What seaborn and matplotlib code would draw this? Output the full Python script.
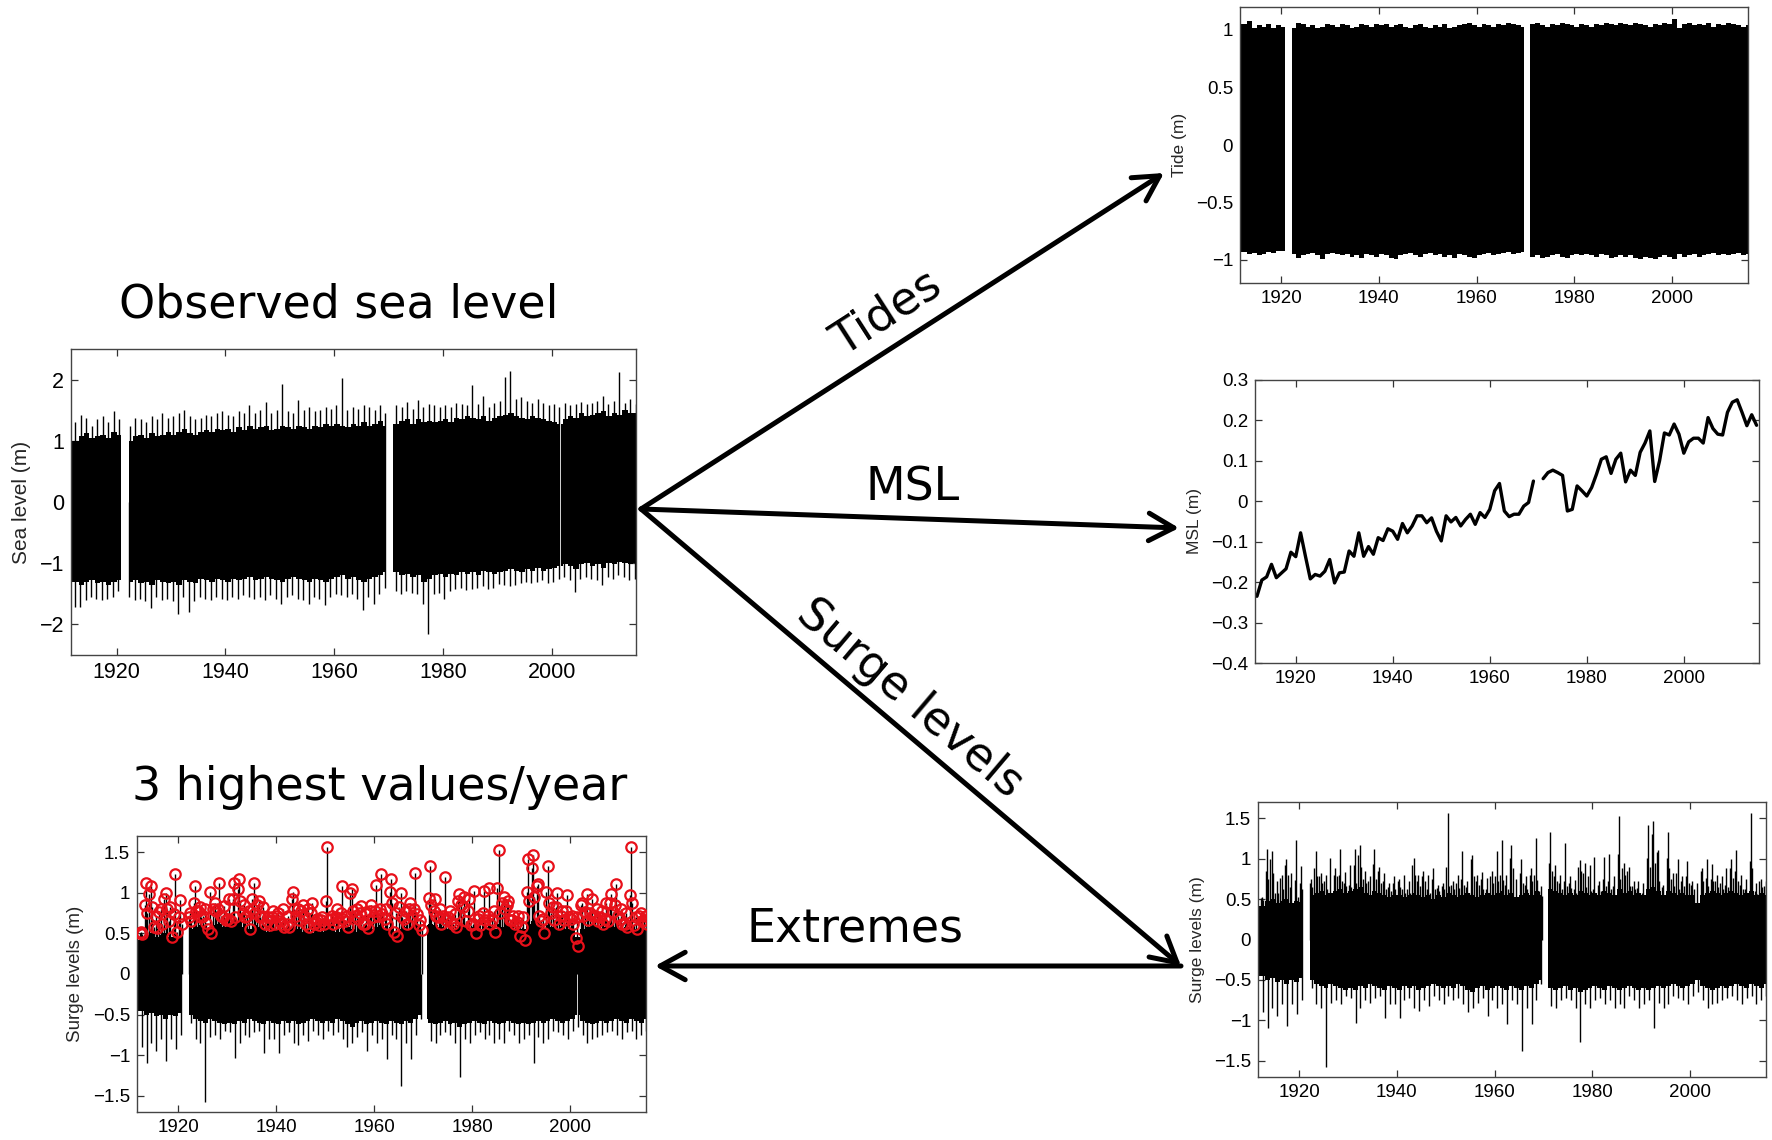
import numpy as np
import pandas as pd
import matplotlib
matplotlib.use("Agg")
import matplotlib.pyplot as plt
from matplotlib.ticker import FuncFormatter, MultipleLocator
import seaborn as sns

nan = np.nan

# ---------------------------------------------------------------- data
YEARS = list(range(1912, 2016))

# periods with a continuous tide-gauge record (decimal years)
RECORD_SEGMENTS = [(1911.6, 1920.75), (1922.3, 1969.6), (1970.85, 2001.5), (2001.62, 2015.5)]

# annual mean sea level (m)
MSL = [
    -0.235, -0.195, -0.187, -0.156, -0.189, -0.178, -0.167, -0.126,
    -0.137, -0.078, -0.136, -0.192, -0.181, -0.185, -0.173, -0.144, -0.202, -0.177,
    -0.175, -0.123, -0.136, -0.078, -0.136, -0.112, -0.131, -0.090, -0.097, -0.068,
    -0.074, -0.094, -0.055, -0.078, -0.061, -0.036, -0.036, -0.053, -0.041, -0.074,
    -0.098, -0.036, -0.051, -0.040, -0.061, -0.045, -0.032, -0.057, -0.028, -0.040,
    -0.020, 0.026, 0.044, -0.024, -0.038, -0.032, -0.032, -0.012, -0.003, 0.050,
    nan, 0.056, 0.071, 0.077, 0.071, 0.064, -0.024, -0.020, 0.038, 0.026,
    0.013, 0.034, 0.067, 0.104, 0.110, 0.069, 0.104, 0.119, 0.048, 0.077,
    0.064, 0.121, 0.144, 0.174, 0.049, 0.100, 0.169, 0.164, 0.191, 0.166,
    0.119, 0.147, 0.156, 0.156, 0.144, 0.207, 0.180, 0.166, 0.164, 0.220,
    0.245, 0.251, 0.220, 0.187, 0.214, 0.188,
]

# observed sea level: typical upper / lower envelope of the hourly record (m)
OBS_TOP = [
    1.00, 1.08, 1.12, 1.05, 1.08, 1.10, 1.05, 1.15,
    1.10, nan, 1.00, 1.08, 1.10, 1.05, 1.12, 1.08, 1.10, 1.15,
    1.10, 1.15, 1.20, 1.12, 1.10, 1.15, 1.18, 1.15, 1.20, 1.18,
    1.20, 1.15, 1.22, 1.18, 1.25, 1.20, 1.22, 1.25, 1.18, 1.20,
    1.25, 1.22, 1.20, 1.25, 1.22, 1.20, 1.25, 1.22, 1.28, 1.25,
    1.28, 1.25, 1.22, 1.28, 1.25, 1.30, 1.25, 1.28, 1.32, 1.25,
    1.28, 1.28, 1.32, 1.35, 1.28, 1.35, 1.30, 1.32, 1.30, 1.32,
    1.35, 1.30, 1.38, 1.35, 1.40, 1.38, 1.35, 1.40, 1.32, 1.38,
    1.40, 1.42, 1.45, 1.40, 1.38, 1.35, 1.40, 1.38, 1.35, 1.32,
    1.30, 1.28, 1.35, 1.40, 1.38, 1.45, 1.40, 1.42, 1.45, 1.48,
    1.40, 1.45, 1.42, 1.50, 1.45, 1.45,
]
OBS_BOT = [
    -1.30, -1.35, -1.30, -1.28, -1.32, -1.30, -1.35, -1.30,
    -1.28, nan, -1.30, -1.28, -1.32, -1.30, -1.35, -1.28, -1.30, -1.32,
    -1.30, -1.35, -1.28, -1.30, -1.32, -1.25, -1.28, -1.30, -1.25, -1.28,
    -1.30, -1.25, -1.28, -1.25, -1.22, -1.28, -1.25, -1.22, -1.25, -1.28,
    -1.30, -1.25, -1.22, -1.25, -1.28, -1.30, -1.25, -1.28, -1.30, -1.25,
    -1.22, -1.20, -1.25, -1.22, -1.28, -1.30, -1.25, -1.22, -1.20, -1.15,
    -1.15, -1.15, -1.20, -1.18, -1.22, -1.20, -1.30, -1.25, -1.20, -1.18,
    -1.22, -1.18, -1.20, -1.15, -1.18, -1.15, -1.20, -1.12, -1.15, -1.18,
    -1.15, -1.12, -1.10, -1.12, -1.15, -1.10, -1.12, -1.08, -1.12, -1.10,
    -1.08, -1.05, -1.02, -1.05, -1.10, -1.02, -1.00, -1.05, -1.02, -1.08,
    -1.00, -1.02, -0.98, -1.00, -1.02, -1.00,
]
# observed sea level: annual maximum and minimum (m)
OBS_MAX = [
    1.30, 1.42, 1.38, 1.25, 1.35, 1.40, 1.30, 1.48,
    1.35, nan, 1.25, 1.38, 1.35, 1.30, 1.40, 1.35, 1.45, 1.38,
    1.40, 1.45, 1.51, 1.40, 1.35, 1.38, 1.42, 1.40, 1.45, 1.48,
    1.42, 1.40, 1.48, 1.45, 1.58, 1.45, 1.50, 1.63, 1.45, 1.50,
    1.93, 1.48, 1.45, 1.66, 1.50, 1.55, 1.48, 1.50, 1.55, 1.52,
    1.58, 2.02, 1.50, 1.55, 1.52, 1.58, 1.55, 1.50, 1.58, 1.45,
    nan, 1.58, 1.55, 1.63, 1.52, 1.67, 1.55, 1.60, 1.58, 1.55,
    1.58, 1.55, 1.62, 1.60, 1.58, 1.91, 1.60, 1.74, 1.55, 1.62,
    1.65, 2.05, 2.14, 1.68, 1.72, 1.65, 1.62, 1.68, 1.62, 1.58,
    1.60, 1.55, 1.62, 1.58, 1.60, 1.63, 1.60, 1.62, 1.65, 1.74,
    1.60, 1.65, 2.13, 1.62, 1.69, 1.60,
]
OBS_MIN = [
    -1.72, -1.72, -1.60, -1.55, -1.58, -1.60, -1.58, -1.55,
    -1.45, nan, -1.55, -1.60, -1.58, -1.62, -1.74, -1.55, -1.60, -1.58,
    -1.62, -1.83, -1.55, -1.80, -1.62, -1.55, -1.58, -1.60, -1.55, -1.58,
    -1.60, -1.55, -1.58, -1.52, -1.55, -1.58, -1.55, -1.60, -1.52, -1.58,
    -1.66, -1.55, -1.52, -1.58, -1.60, -1.66, -1.55, -1.58, -1.69, -1.55,
    -1.50, -1.52, -1.55, -1.50, -1.58, -1.77, -1.55, -1.66, -1.50, -1.40,
    nan, -1.45, -1.50, -1.45, -1.48, -1.50, -1.66, -2.16, -1.50, -1.48,
    -1.58, -1.45, -1.42, -1.40, -1.44, -1.42, -1.40, -1.38, -1.42, -1.40,
    -1.34, -1.35, -1.38, -1.35, -1.32, -1.30, -1.32, -1.30, -1.28, -1.32,
    -1.30, -1.25, -1.22, -1.28, -1.47, -1.25, -1.22, -1.25, -1.28, -1.36,
    -1.22, -1.25, -1.20, -1.22, -1.28, -1.25,
]

# predicted tide: annual upper / lower envelope (m)
TIDE_HI = [
    1.05, 1.08, 1.02, 1.04, 1.03, 1.05, 1.02, 1.04,
    1.03, nan, 1.02, 1.06, 1.05, 1.03, 1.04, 1.02, 1.03, 1.05,
    1.04, 1.03, 1.05, 1.04, 1.02, 1.03, 1.05, 1.04, 1.03, 1.05,
    1.04, 1.05, 1.03, 1.04, 1.05, 1.03, 1.02, 1.04, 1.05, 1.03,
    1.02, 1.04, 1.03, 1.05, 1.02, 1.03, 1.04, 1.05, 1.06, 1.04,
    1.03, 1.05, 1.04, 1.03, 1.05, 1.04, 1.06, 1.05, 1.04, 1.03,
    1.04, 1.05, 1.06, 1.04, 1.03, 1.05, 1.04, 1.06, 1.05, 1.04,
    1.03, 1.05, 1.04, 1.03, 1.05, 1.04, 1.06, 1.05, 1.04, 1.06,
    1.05, 1.04, 1.06, 1.05, 1.04, 1.03, 1.05, 1.04, 1.06, 1.05,
    1.10, 1.02, 1.05, 1.06, 1.04, 1.05, 1.04, 1.06, 1.03, 1.05,
    1.04, 1.06, 1.05, 1.04, 1.03, 1.04,
]
TIDE_LO = [
    -0.93, -0.95, -0.94, -0.96, -0.95, -0.93, -0.94, -0.92,
    -0.92, nan, -0.95, -0.98, -0.96, -0.95, -0.94, -0.96, -0.99, -0.95,
    -0.94, -0.95, -0.96, -0.95, -0.97, -0.96, -0.98, -0.95, -0.96, -0.97,
    -0.95, -0.96, -0.98, -0.99, -0.96, -0.95, -0.94, -0.96, -0.97, -0.95,
    -0.94, -0.96, -0.95, -0.97, -0.96, -0.98, -0.95, -0.96, -0.97, -0.98,
    -0.96, -0.95, -0.94, -0.96, -0.95, -0.94, -0.93, -0.95, -0.94, -0.93,
    -0.95, -0.97, -0.96, -0.98, -0.97, -0.96, -0.95, -0.97, -0.98, -0.96,
    -0.95, -0.96, -0.95, -0.96, -0.97, -0.95, -0.96, -0.98, -0.97, -0.96,
    -0.97, -0.96, -0.98, -0.99, -0.97, -0.98, -0.99, -0.97, -0.96, -0.97,
    -0.99, -0.95, -0.97, -0.96, -0.95, -0.97, -0.96, -0.95, -0.94, -0.96,
    -0.95, -0.96, -0.95, -0.94, -0.96, -0.95,
]

# surge (non-tidal residual): annual upper / lower envelope (m)
SURGE_HI = [
    0.42, 0.48, 0.50, 0.45, 0.48, 0.50, 0.45, 0.48,
    0.46, nan, 0.55, 0.58, 0.60, 0.55, 0.58, 0.60, 0.62, 0.58,
    0.60, 0.62, 0.65, 0.58, 0.55, 0.60, 0.58, 0.55, 0.52, 0.55,
    0.55, 0.52, 0.55, 0.58, 0.55, 0.52, 0.55, 0.50, 0.55, 0.52,
    0.58, 0.55, 0.52, 0.55, 0.58, 0.55, 0.52, 0.55, 0.58, 0.55,
    0.58, 0.60, 0.55, 0.58, 0.52, 0.55, 0.58, 0.55, 0.60, 0.55,
    0.60, 0.62, 0.60, 0.58, 0.55, 0.58, 0.55, 0.60, 0.58, 0.55,
    0.58, 0.55, 0.60, 0.58, 0.55, 0.62, 0.58, 0.60, 0.55, 0.58,
    0.55, 0.62, 0.65, 0.60, 0.55, 0.60, 0.58, 0.55, 0.58, 0.55,
    0.55, 0.45, 0.55, 0.58, 0.60, 0.58, 0.55, 0.58, 0.60, 0.58,
    0.55, 0.58, 0.60, 0.55, 0.58, 0.55,
]
SURGE_LO = [
    -0.45, -0.50, -0.48, -0.52, -0.50, -0.55, -0.50, -0.52,
    -0.48, nan, -0.50, -0.55, -0.58, -0.60, -0.55, -0.58, -0.60, -0.62,
    -0.60, -0.62, -0.58, -0.60, -0.55, -0.58, -0.60, -0.62, -0.58, -0.60,
    -0.62, -0.58, -0.60, -0.58, -0.62, -0.60, -0.58, -0.55, -0.58, -0.60,
    -0.58, -0.60, -0.55, -0.58, -0.62, -0.65, -0.60, -0.58, -0.62, -0.60,
    -0.58, -0.60, -0.62, -0.58, -0.60, -0.62, -0.58, -0.60, -0.55, -0.50,
    -0.55, -0.60, -0.62, -0.60, -0.58, -0.62, -0.60, -0.65, -0.62, -0.60,
    -0.58, -0.60, -0.62, -0.58, -0.60, -0.62, -0.60, -0.58, -0.60, -0.62,
    -0.60, -0.62, -0.60, -0.58, -0.60, -0.58, -0.55, -0.58, -0.60, -0.58,
    -0.55, -0.50, -0.58, -0.60, -0.62, -0.60, -0.58, -0.60, -0.58, -0.55,
    -0.58, -0.60, -0.55, -0.58, -0.60, -0.55,
]
# surge: annual minimum (m)
SURGE_MIN = [
    -0.90, -1.10, -0.85, -0.95, -0.80, -1.07, -0.80, -0.92,
    -0.75, nan, -0.60, -0.80, -0.85, -1.58, -0.78, -0.75, -0.80, -0.70,
    -0.72, -1.03, -0.85, -0.75, -0.78, -0.72, -0.70, -0.97, -0.80, -0.80,
    -0.97, -0.75, -0.72, -0.85, -0.88, -0.75, -0.82, -0.70, -0.75, -0.80,
    -0.70, -0.75, -0.72, -0.80, -0.90, -0.85, -0.78, -0.72, -0.95, -0.75,
    -0.85, -0.80, -1.05, -0.75, -0.80, -1.38, -0.85, -1.05, -0.75, -0.55,
    nan, -0.82, -0.85, -0.75, -0.72, -0.75, -0.85, -1.27, -0.80, -0.85,
    -0.75, -0.72, -0.80, -0.75, -0.85, -0.80, -0.85, -0.70, -0.75, -0.85,
    -0.80, -0.75, -1.10, -0.78, -0.85, -0.80, -0.70, -0.72, -0.75, -0.80,
    -0.70, -0.65, -0.75, -0.85, -0.80, -0.78, -0.75, -0.72, -0.70, -0.75,
    -0.80, -0.72, -0.70, -0.80, -0.75, -0.70,
]
# surge: three highest values of each year (m)
SURGE_1ST = [
    0.52, 1.12, 1.09, 0.72, 0.80, 1.00, 0.82, 1.23,
    0.91, nan, 0.75, 1.09, 0.82, 0.80, 1.01, 0.88, 1.12, 0.84,
    0.92, 1.12, 1.17, 0.85, 0.78, 1.12, 0.90, 0.82, 0.70, 0.78,
    0.75, 0.80, 0.72, 1.01, 0.80, 0.85, 0.80, 0.88, 0.68, 0.70,
    1.57, 0.72, 0.80, 1.09, 0.72, 1.05, 0.80, 0.84, 0.76, 0.85,
    1.10, 1.23, 0.80, 1.17, 0.75, 1.00, 0.78, 0.88, 1.25, 0.66,
    nan, 1.33, 0.92, 0.80, 1.19, 0.78, 0.74, 0.98, 0.95, 0.92,
    1.02, 0.72, 1.02, 1.06, 0.78, 1.53, 0.95, 0.90, 0.72, 0.72,
    0.70, 1.42, 1.47, 1.11, 0.68, 1.33, 0.82, 1.00, 0.78, 0.97,
    0.72, 0.70, 0.88, 0.99, 0.93, 0.80, 0.78, 0.88, 0.99, 1.11,
    0.80, 0.75, 1.57, 0.70, 0.75, 0.72,
]
SURGE_2ND = [
    0.51, 0.85, 0.99, 0.58, 0.76, 0.92, 0.65, 0.74,
    0.70, nan, 0.70, 0.88, 0.78, 0.72, 0.55, 0.80, 0.80, 0.70,
    0.68, 0.92, 1.05, 0.75, 0.72, 0.93, 0.85, 0.72, 0.65, 0.70,
    0.72, 0.62, 0.62, 0.92, 0.72, 0.78, 0.62, 0.75, 0.64, 0.66,
    0.90, 0.68, 0.70, 0.75, 0.65, 1.00, 0.72, 0.75, 0.62, 0.78,
    0.78, 0.80, 0.68, 1.01, 0.52, 0.82, 0.68, 0.80, 0.80, 0.60,
    nan, 0.94, 0.78, 0.70, 0.72, 0.70, 0.62, 0.90, 0.82, 0.78,
    0.62, 0.68, 0.75, 0.72, 0.66, 1.06, 0.88, 0.85, 0.66, 0.64,
    0.58, 1.01, 1.31, 1.08, 0.65, 1.01, 0.75, 0.82, 0.72, 0.78,
    0.68, 0.44, 0.85, 0.76, 0.75, 0.72, 0.70, 0.68, 0.88, 0.85,
    0.68, 0.62, 0.97, 0.60, 0.72, 0.66,
]
SURGE_3RD = [
    0.49, 0.75, 0.82, 0.57, 0.62, 0.80, 0.45, 0.52,
    0.62, nan, 0.65, 0.78, 0.70, 0.63, 0.50, 0.78, 0.72, 0.66,
    0.65, 0.70, 0.90, 0.70, 0.55, 0.75, 0.70, 0.62, 0.60, 0.62,
    0.65, 0.58, 0.58, 0.80, 0.66, 0.72, 0.58, 0.62, 0.60, 0.62,
    0.66, 0.62, 0.64, 0.68, 0.58, 0.78, 0.68, 0.62, 0.57, 0.70,
    0.72, 0.74, 0.62, 0.88, 0.47, 0.70, 0.62, 0.72, 0.74, 0.54,
    nan, 0.85, 0.72, 0.62, 0.66, 0.64, 0.58, 0.85, 0.65, 0.60,
    0.50, 0.60, 0.66, 0.62, 0.52, 0.75, 0.80, 0.66, 0.62, 0.47,
    0.42, 0.90, 0.95, 0.72, 0.50, 0.88, 0.66, 0.62, 0.66, 0.70,
    0.62, 0.34, 0.72, 0.66, 0.72, 0.65, 0.62, 0.65, 0.76, 0.72,
    0.62, 0.58, 0.88, 0.56, 0.65, 0.62,
]

for arr in (MSL, OBS_TOP, OBS_BOT, OBS_MAX, OBS_MIN, TIDE_HI, TIDE_LO,
            SURGE_HI, SURGE_LO, SURGE_MIN, SURGE_1ST, SURGE_2ND, SURGE_3RD):
    assert len(arr) == len(YEARS)

# ---------------------------------------------------------------- style
sns.set_style("white")
plt.rcParams["font.family"] = ["Liberation Sans", "DejaVu Sans"]
plt.rcParams["axes.unicode_minus"] = True

W, H = 1772, 1140
fig = plt.figure(figsize=(W / 100, H / 100), dpi=100)
XLIM = (1911.6, 2015.5)
years = np.array(YEARS, dtype=float)


def px_axes(x0, y0, x1, y1):
    """Axes placed by pixel box (left, top, right, bottom)."""
    return fig.add_axes([x0 / W, 1 - y1 / H, (x1 - x0) / W, (y1 - y0) / H])


def matlab_fmt(v, _pos):
    s = f"{v:g}"
    if s in ("-0", "0.0"):
        s = "0"
    return s.replace("-", "\u2212")


def style_axes(ax, ylim, ystep, fs, ylabel, lab_fs):
    ax.set_xlim(*XLIM)
    ax.set_ylim(*ylim)
    ax.xaxis.set_major_locator(MultipleLocator(20))
    ax.yaxis.set_major_locator(MultipleLocator(ystep))
    ax.xaxis.set_major_formatter(FuncFormatter(lambda v, p: f"{v:.0f}"))
    ax.yaxis.set_major_formatter(FuncFormatter(matlab_fmt))
    ax.tick_params(direction="in", length=5, width=0.9, colors="#333333",
                   labelcolor="black", labelsize=fs, top=True, right=True,
                   bottom=True, left=True, pad=5)
    for sp in ax.spines.values():
        sp.set_visible(True)
        sp.set_color("#444444")
        sp.set_linewidth(1.0)
    ax.set_xlabel("")
    ax.set_ylabel(ylabel, fontsize=lab_fs, labelpad=6)


def draw_block(ax, lo, hi):
    """Fill the band of a dense hourly record between annual envelopes."""
    for a, b in RECORD_SEGMENTS:
        edges = [a] + [float(y) for y in YEARS if a < y < b] + [b]
        xs, l, h = [], [], []
        for x0, x1 in zip(edges[:-1], edges[1:]):
            i = YEARS.index(max(int(np.floor(x0 + 1e-9)), YEARS[0]))
            xs += [x0, x1]
            l += [lo[i], lo[i]]
            h += [hi[i], hi[i]]
        ax.fill_between(xs, l, h, color="black", lw=0, zorder=2)


def spikes(ax, offset, vals, lw=1.0):
    v = np.array(vals, dtype=float)
    ok = np.isfinite(v)
    ax.vlines(years[ok] + offset, 0, v[ok], color="black", lw=lw, zorder=2)


# ---------------------------------------------------------------- observed sea level
ax_obs = px_axes(71, 349, 636, 655)
draw_block(ax_obs, OBS_BOT, OBS_TOP)
spikes(ax_obs, 0.42, OBS_MAX)
spikes(ax_obs, 0.28, OBS_MIN)
style_axes(ax_obs, (-2.5, 2.5), 1, 15.5, "Sea level (m)", 15)

# ---------------------------------------------------------------- tide
ax_tide = px_axes(1240, 7, 1748, 283)
draw_block(ax_tide, TIDE_LO, TIDE_HI)
style_axes(ax_tide, (-1.2, 1.2), 0.5, 13.5, "Tide (m)", 12.5)

# ---------------------------------------------------------------- mean sea level
ax_msl = px_axes(1255, 380, 1759, 663)
msl_df = pd.DataFrame({"year": YEARS, "msl": MSL})
msl_df["part"] = np.where(msl_df["year"] < 1970, "a", "b")
msl_df = msl_df.dropna()
sns.lineplot(data=msl_df, x="year", y="msl", units="part", estimator=None,
             color="black", lw=2.4, ax=ax_msl)
style_axes(ax_msl, (-0.4, 0.3), 0.1, 13.5, "MSL (m)", 12.5)

# ---------------------------------------------------------------- surge levels
OFFS = (0.42, 0.15, 0.70)
ax_surge = px_axes(1258, 802, 1766, 1077)
draw_block(ax_surge, SURGE_LO, SURGE_HI)
for off, vals in zip(OFFS, (SURGE_1ST, SURGE_2ND, SURGE_3RD)):
    spikes(ax_surge, off, vals)
spikes(ax_surge, 0.55, SURGE_MIN)
style_axes(ax_surge, (-1.7, 1.7), 0.5, 13.5, "Surge levels (m)", 12.5)

# ---------------------------------------------------------------- annual extremes
ax_ext = px_axes(137, 836, 646, 1112)
draw_block(ax_ext, SURGE_LO, SURGE_HI)
for off, vals in zip(OFFS, (SURGE_1ST, SURGE_2ND, SURGE_3RD)):
    spikes(ax_ext, off, vals)
spikes(ax_ext, 0.55, SURGE_MIN)
for off, vals in zip(OFFS, (SURGE_1ST, SURGE_2ND, SURGE_3RD)):
    v = np.array(vals, dtype=float)
    ok = np.isfinite(v)
    ax_ext.plot(years[ok] + off, v[ok], "o", ms=7.5, mfc="none", mec="#e8101a",
                mew=1.6, zorder=3, clip_on=True)
style_axes(ax_ext, (-1.7, 1.7), 0.5, 13.5, "Surge levels (m)", 13.5)

# ---------------------------------------------------------------- arrows and captions
ov = fig.add_axes([0, 0, 1, 1], facecolor="none", zorder=10)
ov.set_xlim(0, W)
ov.set_ylim(H, 0)
ov.axis("off")

origin = (641, 509)
aprops = dict(arrowstyle="->,head_length=1.0,head_width=0.55", lw=3.6,
              color="black", shrinkA=0, shrinkB=0, mutation_scale=18)
for tip in [(1164, 173), (1179, 528), (1181, 966)]:
    ov.annotate("", xy=tip, xytext=origin, arrowprops=aprops)
ov.annotate("", xy=(655, 966), xytext=(1181, 966), arrowprops=aprops)

cap = dict(family="DejaVu Sans", fontsize=33, color="black",
           ha="center", va="center", rotation_mode="anchor")
ov.text(339, 305, "Observed sea level", **cap)
ov.text(380, 788, "3 highest values/year", **cap)
ov.text(887, 314, "Tides", rotation=32.7, **cap)
ov.text(913, 488, "MSL", **cap)
ov.text(910, 699, "Surge levels", rotation=-40.3, **cap)
ov.text(855, 929, "Extremes", **cap)

fig.savefig("out.png", dpi=100)
